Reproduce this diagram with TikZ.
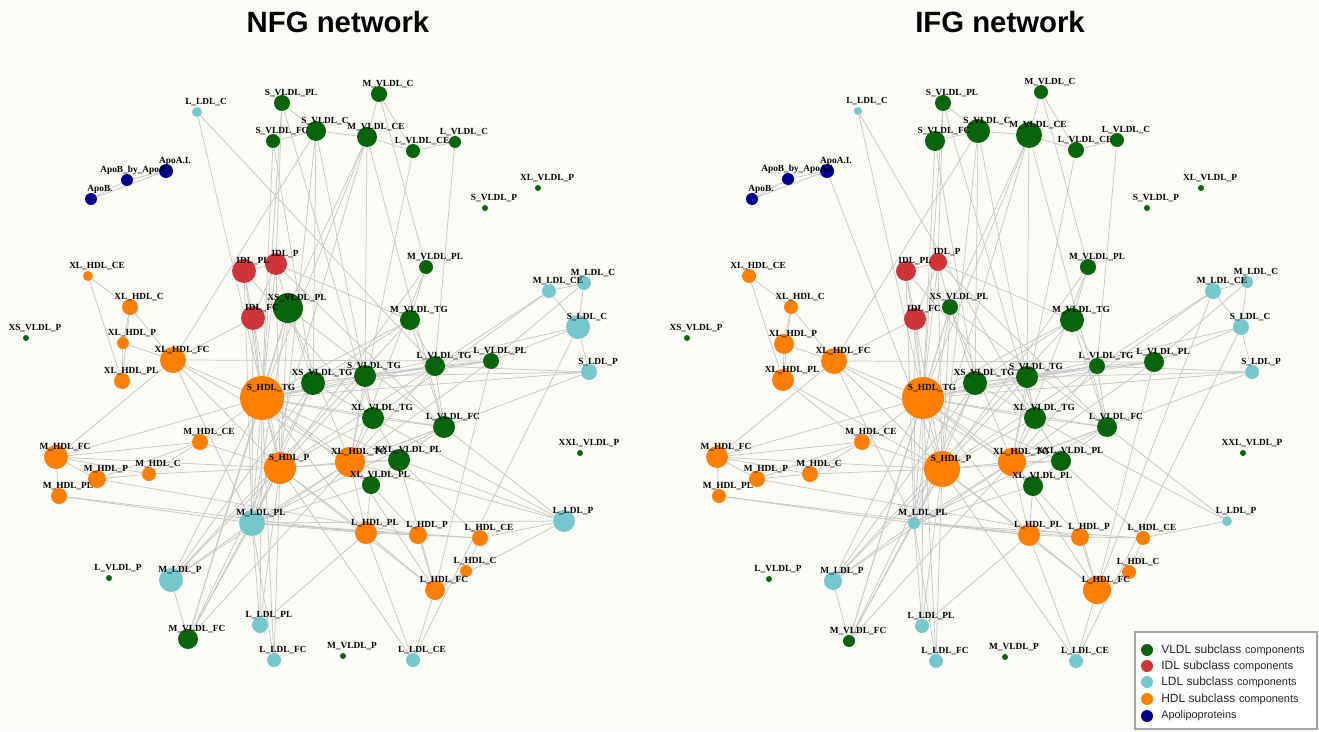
\documentclass[tikz,border=0pt]{standalone}
\usepackage{fontspec}
\setmainfont{Liberation Serif}
\setsansfont{Liberation Sans}
\usetikzlibrary{backgrounds}
\pgfdeclarelayer{fg}
\pgfsetlayers{background,main,fg}
\definecolor{cvl}{RGB}{8,100,8}
\definecolor{cidl}{RGB}{206,52,58}
\definecolor{cldl}{RGB}{118,200,204}
\definecolor{chdl}{RGB}{255,128,0}
\definecolor{capo}{RGB}{0,0,140}
\definecolor{cedge}{RGB}{198,198,198}
\definecolor{cbg}{RGB}{251,251,247}
\definecolor{cbox}{RGB}{165,165,165}
\tikzset{
  dot/.style={circle,draw=none,inner sep=0pt},
  lbl/.style={inner sep=0pt,font=\bfseries\fontsize{7}{8}\selectfont},
  edge/.style={draw=cedge,line width=0.55pt},
  legtxt/.style={anchor=west,inner sep=0pt,font=\sffamily,text=black!85},
  ttl/.style={font=\sffamily\bfseries\fontsize{22}{26}\selectfont}
}
\newcommand\nd[7]{%
  \node[dot,fill=#6,minimum size={#5*1.5pt}] (#1#2) at (#3,#4) {};
  \begin{pgfonlayer}{fg}
  \node[lbl] (#1#2-t) at ([shift={(9,-10)}]#1#2.center) {#7};
  \end{pgfonlayer}}
\def\edgesCommon{ApoB/ApoBA,ApoBA/ApoAI,ApoB/ApoAI,%
SVLDLPL/SVLDLC,SVLDLFC/SVLDLC,SVLDLC/MVLDLCE,MVLDLC/MVLDLCE,MVLDLC/LVLDLCE,MVLDLC/MVLDLPL,MVLDLCE/LVLDLCE,LVLDLCE/LVLDLC,LVLDLC/LVLDLTG,%
MVLDLCE/SVLDLTG,MVLDLCE/SHDLTG,MVLDLCE/XSVLDLPL,SVLDLC/XLHDLFC,SVLDLC/SHDLP,SVLDLC/XSVLDLTG,SVLDLC/XLVLDLTG,SVLDLPL/IDLP,SVLDLPL/SHDLTG,%
SVLDLPL/XLVLDLTG,SVLDLFC/SHDLTG,SVLDLFC/XSVLDLTG,LVLDLCE/XLHDLTG,MVLDLCE/MLDLPL,MVLDLCE/LVLDLFC,%
MVLDLPL/MVLDLTG,MVLDLPL/XLHDLTG,MVLDLPL/SHDLP,%
MVLDLTG/LVLDLTG,MVLDLTG/XSVLDLTG,MVLDLTG/LVLDLFC,MVLDLTG/SHDLTG,MVLDLTG/IDLP,MVLDLTG/MLDLP,%
MLDLCE/MLDLC,MLDLCE/SLDLC,MLDLC/SLDLC,MLDLC/LVLDLPL,MLDLCE/XLVLDLTG,MLDLCE/LVLDLTG,SLDLC/LVLDLPL,SLDLC/SLDLP,SLDLC/SVLDLTG,SLDLC/LLDLCE,%
SLDLP/SVLDLTG,SLDLP/LVLDLTG,SLDLP/XLHDLTG,SLDLP/SHDLTG,%
XLHDLFC/LVLDLPL,XLHDLFC/SHDLTG,XLHDLFC/XLHDLTG,XLHDLFC/MLDLPL,XLHDLFC/IDLFC,XLHDLFC/XLHDLC,XLHDLFC/XLHDLP,XLHDLFC/MHDLFC,XLHDLFC/SHDLP,%
XLHDLCE/XLHDLC,XLHDLCE/XLHDLPL,XLHDLC/XLHDLP,XLHDLP/XLHDLPL,XLHDLC/XLHDLPL,%
IDLPL/IDLP,IDLPL/IDLFC,IDLP/IDLFC,IDLP/XSVLDLPL,IDLPL/SHDLTG,IDLP/SHDLTG,IDLFC/SHDLTG,IDLFC/MLDLPL,IDLPL/MLDLPL,IDLP/SHDLP,IDLFC/SHDLP,IDLP/LVLDLFC,IDLPL/XLVLDLTG,%
XSVLDLPL/SHDLTG,XSVLDLPL/XSVLDLTG,XSVLDLPL/MLDLPL,XSVLDLPL/SHDLP,XSVLDLPL/MVLDLFC,XSVLDLPL/XLHDLTG,XSVLDLPL/LVLDLFC,%
SHDLTG/XSVLDLTG,SHDLTG/SVLDLTG,SHDLTG/SHDLP,SHDLTG/XLHDLTG,SHDLTG/XLVLDLTG,SHDLTG/LVLDLFC,SHDLTG/XXLVLDLPL,SHDLTG/XLVLDLPL,SHDLTG/LVLDLPL,%
SHDLTG/MLDLPL,SHDLTG/MLDLP,SHDLTG/MVLDLFC,SHDLTG/LLDLPL,SHDLTG/LLDLFC,SHDLTG/MHDLFC,SHDLTG/MHDLCE,SHDLTG/LHDLPL,SHDLTG/LVLDLTG,%
SHDLP/XLHDLTG,SHDLP/XLVLDLTG,SHDLP/SVLDLTG,SHDLP/LHDLPL,SHDLP/LHDLFC,SHDLP/MLDLPL,SHDLP/MLDLP,SHDLP/MHDLCE,SHDLP/MHDLFC,SHDLP/LVLDLTG,%
SHDLP/XXLVLDLPL,SHDLP/LLDLCE,SHDLP/MVLDLFC,SHDLP/LLDLPL,%
XSVLDLTG/SVLDLTG,XSVLDLTG/XLVLDLTG,XSVLDLTG/LVLDLTG,XSVLDLTG/MLDLP,XSVLDLTG/MLDLPL,%
SVLDLTG/LVLDLTG,SVLDLTG/LVLDLPL,SVLDLTG/XLVLDLTG,SVLDLTG/XLHDLTG,%
LVLDLTG/LVLDLPL,LVLDLTG/LVLDLFC,LVLDLTG/XLHDLTG,LVLDLPL/XLHDLTG,LVLDLPL/LHDLFC,%
XLVLDLTG/XLHDLTG,XLVLDLTG/LVLDLFC,XLVLDLTG/LLDLP,XLVLDLTG/XXLVLDLPL,%
LVLDLFC/XLHDLTG,LVLDLFC/XXLVLDLPL,LVLDLFC/MLDLPL,%
XLHDLTG/XXLVLDLPL,XLHDLTG/XLVLDLPL,XLHDLTG/LHDLPL,XLHDLTG/LHDLFC,XLHDLTG/MLDLPL,XLHDLTG/MLDLP,%
XXLVLDLPL/XLVLDLPL,XXLVLDLPL/LHDLCE,XXLVLDLPL/LHDLFC,XLVLDLPL/LHDLPL,XLVLDLPL/LHDLP,XLVLDLPL/MLDLPL,%
LLDLP/LHDLCE,%
LHDLPL/LHDLP,LHDLP/LHDLCE,LHDLCE/LHDLC,LHDLC/LHDLFC,LHDLP/LHDLFC,LHDLPL/LHDLFC,LHDLFC/LLDLCE,LHDLPL/LLDLCE,LHDLPL/MLDLPL,LHDLP/MLDLPL,LHDLCE/MLDLPL,%
MHDLFC/MHDLP,MHDLFC/MHDLPL,MHDLFC/MHDLC,MHDLFC/MHDLCE,MHDLP/MHDLC,MHDLP/MHDLCE,MHDLC/MHDLCE,MHDLPL/MLDLPL,MHDLPL/LHDLPL,MHDLP/LHDLP,MHDLC/SHDLP,%
MLDLPL/MLDLP,MLDLPL/LLDLPL,MLDLPL/LLDLFC,MLDLPL/MVLDLFC,%
MLDLP/MVLDLFC,LLDLPL/LHDLPL,LLDLFC/SHDLP,MVLDLFC/XSVLDLTG,MVLDLFC/XLHDLTG}
\def\edgesA{LLDLC/SHDLP,LLDLC/LVLDLTG,LLDLP/MLDLPL,LLDLP/XXLVLDLPL,LLDLP/LHDLFC,XLHDLTG/LLDLP,LVLDLFC/LLDLP}
\def\edgesB{ApoAI/SHDLP,LLDLC/SHDLTG,LLDLC/XLVLDLTG,XLHDLPL/MHDLCE,XLHDLPL/SHDLP,LHDLFC/MLDLCE,LLDLP/LVLDLFC}
\begin{document}
\begin{tikzpicture}[x=0.75pt,y=-0.75pt]
\useasboundingbox (0,0) rectangle (1319,731);
% ---------------- left network ----------------
\nd{a}{LLDLC}{197}{112}{5}{cldl}{L\_LDL\_C}
\nd{a}{SVLDLPL}{282}{103}{8}{cvl}{S\_VLDL\_PL}
\nd{a}{SVLDLFC}{273}{141}{7}{cvl}{S\_VLDL\_FC}
\nd{a}{SVLDLC}{316}{131}{10}{cvl}{S\_VLDL\_C}
\nd{a}{MVLDLC}{379}{94}{8}{cvl}{M\_VLDL\_C}
\nd{a}{MVLDLCE}{367}{137}{10}{cvl}{M\_VLDL\_CE}
\nd{a}{LVLDLCE}{413}{151}{7}{cvl}{L\_VLDL\_CE}
\nd{a}{LVLDLC}{455}{142}{6}{cvl}{L\_VLDL\_C}
\nd{a}{XLVLDLP}{538}{188}{3}{cvl}{XL\_VLDL\_P}
\nd{a}{SVLDLP}{485}{208}{3}{cvl}{S\_VLDL\_P}
\nd{a}{ApoBA}{127}{180}{6}{capo}{ApoB\_by\_ApoA.I}
\nd{a}{ApoAI}{166}{171}{7}{capo}{ApoA.I.}
\nd{a}{ApoB}{91}{199}{6}{capo}{ApoB.}
\nd{a}{XLHDLCE}{88}{276}{5}{chdl}{XL\_HDL\_CE}
\nd{a}{XLHDLC}{130}{307}{8}{chdl}{XL\_HDL\_C}
\nd{a}{XLHDLP}{123}{343}{6}{chdl}{XL\_HDL\_P}
\nd{a}{XSVLDLP}{26}{338}{3}{cvl}{XS\_VLDL\_P}
\nd{a}{IDLPL}{244}{271}{12}{cidl}{IDL\_PL}
\nd{a}{IDLP}{276}{264}{11}{cidl}{IDL\_P}
\nd{a}{IDLFC}{253}{318}{12}{cidl}{IDL\_FC}
\nd{a}{XSVLDLPL}{288}{308}{15}{cvl}{XS\_VLDL\_PL}
\nd{a}{XLHDLFC}{173}{360}{13}{chdl}{XL\_HDL\_FC}
\nd{a}{MVLDLPL}{426}{267}{7}{cvl}{M\_VLDL\_PL}
\nd{a}{MLDLCE}{549}{291}{7}{cldl}{M\_LDL\_CE}
\nd{a}{MLDLC}{584}{283}{7}{cldl}{M\_LDL\_C}
\nd{a}{SLDLC}{578}{327}{12}{cldl}{S\_LDL\_C}
\nd{a}{MVLDLTG}{410}{320}{10}{cvl}{M\_VLDL\_TG}
\nd{a}{LVLDLTG}{435}{366}{10}{cvl}{L\_VLDL\_TG}
\nd{a}{LVLDLPL}{491}{361}{8}{cvl}{L\_VLDL\_PL}
\nd{a}{SVLDLTG}{365}{376}{11}{cvl}{S\_VLDL\_TG}
\nd{a}{SLDLP}{589}{372}{8}{cldl}{S\_LDL\_P}
\nd{a}{XLVLDLTG}{373}{418}{11}{cvl}{XL\_VLDL\_TG}
\nd{a}{LVLDLFC}{444}{427}{11}{cvl}{L\_VLDL\_FC}
\nd{a}{XXLVLDLP}{580}{453}{3}{cvl}{XXL\_VLDL\_P}
\nd{a}{XLHDLTG}{350}{462}{15}{chdl}{XL\_HDL\_TG}
\nd{a}{XXLVLDLPL}{399}{460}{11}{cvl}{XXL\_VLDL\_PL}
\nd{a}{XLVLDLPL}{371}{485}{9}{cvl}{XL\_VLDL\_PL}
\nd{a}{LLDLP}{564}{521}{11}{cldl}{L\_LDL\_P}
\nd{a}{LHDLPL}{366}{533}{11}{chdl}{L\_HDL\_PL}
\nd{a}{LHDLP}{418}{535}{9}{chdl}{L\_HDL\_P}
\nd{a}{LHDLCE}{480}{538}{8}{chdl}{L\_HDL\_CE}
\nd{a}{LHDLC}{466}{571}{6}{chdl}{L\_HDL\_C}
\nd{a}{LHDLFC}{435}{590}{10}{chdl}{L\_HDL\_FC}
\nd{a}{MVLDLP}{343}{656}{3}{cvl}{M\_VLDL\_P}
\nd{a}{LLDLCE}{413}{660}{7}{cldl}{L\_LDL\_CE}
\nd{a}{XSVLDLTG}{313}{383}{12}{cvl}{XS\_VLDL\_TG}
\nd{a}{SHDLTG}{262}{398}{22}{chdl}{S\_HDL\_TG}
\nd{a}{SHDLP}{280}{468}{16}{chdl}{S\_HDL\_P}
\nd{a}{XLHDLPL}{122}{381}{8}{chdl}{XL\_HDL\_PL}
\nd{a}{MHDLCE}{200}{442}{8}{chdl}{M\_HDL\_CE}
\nd{a}{MHDLFC}{56}{457}{12}{chdl}{M\_HDL\_FC}
\nd{a}{MHDLP}{97}{479}{9}{chdl}{M\_HDL\_P}
\nd{a}{MHDLC}{149}{474}{7}{chdl}{M\_HDL\_C}
\nd{a}{MHDLPL}{59}{496}{8}{chdl}{M\_HDL\_PL}
\nd{a}{MLDLPL}{252}{523}{13}{cldl}{M\_LDL\_PL}
\nd{a}{LVLDLP}{109}{578}{3}{cvl}{L\_VLDL\_P}
\nd{a}{MLDLP}{171}{580}{12}{cldl}{M\_LDL\_P}
\nd{a}{LLDLPL}{260}{625}{8}{cldl}{L\_LDL\_PL}
\nd{a}{MVLDLFC}{188}{639}{10}{cvl}{M\_VLDL\_FC}
\nd{a}{LLDLFC}{274}{660}{7}{cldl}{L\_LDL\_FC}
% ---------------- right network ----------------
\nd{b}{LLDLC}{858}{111}{4}{cldl}{L\_LDL\_C}
\nd{b}{SVLDLPL}{943}{103}{8}{cvl}{S\_VLDL\_PL}
\nd{b}{SVLDLFC}{935}{141}{10}{cvl}{S\_VLDL\_FC}
\nd{b}{SVLDLC}{978}{131}{12}{cvl}{S\_VLDL\_C}
\nd{b}{MVLDLC}{1041}{92}{7}{cvl}{M\_VLDL\_C}
\nd{b}{MVLDLCE}{1029}{135}{13}{cvl}{M\_VLDL\_CE}
\nd{b}{LVLDLCE}{1076}{150}{8}{cvl}{L\_VLDL\_CE}
\nd{b}{LVLDLC}{1117}{140}{7}{cvl}{L\_VLDL\_C}
\nd{b}{XLVLDLP}{1201}{188}{3}{cvl}{XL\_VLDL\_P}
\nd{b}{SVLDLP}{1147}{208}{3}{cvl}{S\_VLDL\_P}
\nd{b}{ApoBA}{788}{179}{6}{capo}{ApoB\_by\_ApoA.I}
\nd{b}{ApoAI}{827}{171}{7}{capo}{ApoA.I.}
\nd{b}{ApoB}{752}{199}{6}{capo}{ApoB.}
\nd{b}{XLHDLCE}{749}{276}{7}{chdl}{XL\_HDL\_CE}
\nd{b}{XLHDLC}{791}{307}{7}{chdl}{XL\_HDL\_C}
\nd{b}{XLHDLP}{784}{344}{10}{chdl}{XL\_HDL\_P}
\nd{b}{XSVLDLP}{687}{338}{3}{cvl}{XS\_VLDL\_P}
\nd{b}{IDLPL}{906}{271}{10}{cidl}{IDL\_PL}
\nd{b}{IDLP}{938}{262}{9}{cidl}{IDL\_P}
\nd{b}{IDLFC}{915}{319}{11}{cidl}{IDL\_FC}
\nd{b}{XSVLDLPL}{950}{307}{8}{cvl}{XS\_VLDL\_PL}
\nd{b}{XLHDLFC}{834}{361}{13}{chdl}{XL\_HDL\_FC}
\nd{b}{MVLDLPL}{1088}{267}{8}{cvl}{M\_VLDL\_PL}
\nd{b}{MLDLCE}{1213}{291}{8}{cldl}{M\_LDL\_CE}
\nd{b}{MLDLC}{1247}{282}{6}{cldl}{M\_LDL\_C}
\nd{b}{SLDLC}{1241}{327}{8}{cldl}{S\_LDL\_C}
\nd{b}{MVLDLTG}{1072}{320}{12}{cvl}{M\_VLDL\_TG}
\nd{b}{LVLDLTG}{1097}{366}{8}{cvl}{L\_VLDL\_TG}
\nd{b}{LVLDLPL}{1154}{362}{10}{cvl}{L\_VLDL\_PL}
\nd{b}{SVLDLTG}{1027}{377}{11}{cvl}{S\_VLDL\_TG}
\nd{b}{SLDLP}{1252}{372}{7}{cldl}{S\_LDL\_P}
\nd{b}{XLVLDLTG}{1035}{418}{11}{cvl}{XL\_VLDL\_TG}
\nd{b}{LVLDLFC}{1107}{427}{10}{cvl}{L\_VLDL\_FC}
\nd{b}{XXLVLDLP}{1243}{453}{3}{cvl}{XXL\_VLDL\_P}
\nd{b}{XLHDLTG}{1012}{462}{14}{chdl}{XL\_HDL\_TG}
\nd{b}{XXLVLDLPL}{1061}{461}{10}{cvl}{XXL\_VLDL\_PL}
\nd{b}{XLVLDLPL}{1033}{486}{10}{cvl}{XL\_VLDL\_PL}
\nd{b}{LLDLP}{1227}{521}{5}{cldl}{L\_LDL\_P}
\nd{b}{LHDLPL}{1029}{535}{11}{chdl}{L\_HDL\_PL}
\nd{b}{LHDLP}{1080}{537}{9}{chdl}{L\_HDL\_P}
\nd{b}{LHDLCE}{1143}{538}{7}{chdl}{L\_HDL\_CE}
\nd{b}{LHDLC}{1129}{572}{7}{chdl}{L\_HDL\_C}
\nd{b}{LHDLFC}{1097}{590}{14}{chdl}{L\_HDL\_FC}
\nd{b}{MVLDLP}{1005}{657}{3}{cvl}{M\_VLDL\_P}
\nd{b}{LLDLCE}{1076}{661}{7}{cldl}{L\_LDL\_CE}
\nd{b}{XSVLDLTG}{975}{383}{12}{cvl}{XS\_VLDL\_TG}
\nd{b}{SHDLTG}{923}{398}{21}{chdl}{S\_HDL\_TG}
\nd{b}{SHDLP}{942}{469}{18}{chdl}{S\_HDL\_P}
\nd{b}{XLHDLPL}{783}{380}{11}{chdl}{XL\_HDL\_PL}
\nd{b}{MHDLCE}{862}{442}{8}{chdl}{M\_HDL\_CE}
\nd{b}{MHDLFC}{717}{457}{11}{chdl}{M\_HDL\_FC}
\nd{b}{MHDLP}{757}{479}{8}{chdl}{M\_HDL\_P}
\nd{b}{MHDLC}{810}{474}{8}{chdl}{M\_HDL\_C}
\nd{b}{MHDLPL}{719}{496}{7}{chdl}{M\_HDL\_PL}
\nd{b}{MLDLPL}{914}{523}{6}{cldl}{M\_LDL\_PL}
\nd{b}{LVLDLP}{769}{579}{3}{cvl}{L\_VLDL\_P}
\nd{b}{MLDLP}{833}{581}{9}{cldl}{M\_LDL\_P}
\nd{b}{LLDLPL}{922}{626}{7}{cldl}{L\_LDL\_PL}
\nd{b}{MVLDLFC}{849}{641}{6}{cvl}{M\_VLDL\_FC}
\nd{b}{LLDLFC}{936}{661}{7}{cldl}{L\_LDL\_FC}
% ---------------- edges and background ----------------
\begin{pgfonlayer}{background}
\fill[cbg] (0,0) rectangle (1319,731);
\foreach \u/\v in \edgesCommon {\draw[edge] (a\u) -- (a\v); \draw[edge] (b\u) -- (b\v);}
\foreach \u/\v in \edgesA {\draw[edge] (a\u) -- (a\v);}
\foreach \u/\v in \edgesB {\draw[edge] (b\u) -- (b\v);}
\end{pgfonlayer}
% ---------------- titles ----------------
\node[ttl] (t1) at (338,22) {NFG network};
\node[ttl] (t2) at (1000,22) {IFG network};
% ---------------- legend ----------------
\draw[cbox,line width=0.8pt,fill=white] (1135,632) rectangle (1317,729);
\node[dot,fill=cvl,minimum size=9pt] (lg1) at (1147,650) {};
\node[dot,fill=cidl,minimum size=9pt] (lg2) at (1147,666) {};
\node[dot,fill=cldl,minimum size=9pt] (lg3) at (1147,682) {};
\node[dot,fill=chdl,minimum size=9pt] (lg4) at (1147,699) {};
\node[dot,fill=capo,minimum size=9pt] (lg5) at (1147,716) {};
\node[legtxt] (lg1t) at (1161,650) {{\fontsize{9}{10}\selectfont VLDL subclass} {\fontsize{8.2}{10}\selectfont components}};
\node[legtxt] (lg2t) at (1161,666) {{\fontsize{9}{10}\selectfont IDL subclass} {\fontsize{8.2}{10}\selectfont components}};
\node[legtxt] (lg3t) at (1161,682) {{\fontsize{9}{10}\selectfont LDL subclass} {\fontsize{8.2}{10}\selectfont components}};
\node[legtxt] (lg4t) at (1161,699) {{\fontsize{9}{10}\selectfont HDL subclass} {\fontsize{8.2}{10}\selectfont components}};
\node[legtxt] (lg5t) at (1161,716) {{\fontsize{8.2}{10}\selectfont Apolipoproteins}};
\end{tikzpicture}
\end{document}
